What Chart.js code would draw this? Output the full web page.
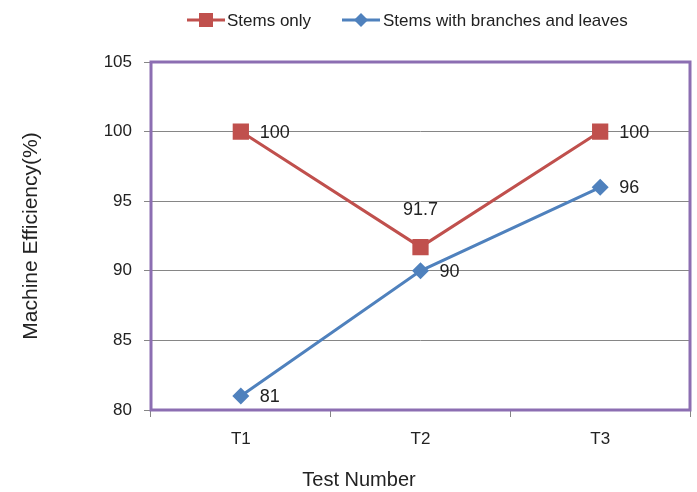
<!DOCTYPE html>
<html><head><meta charset="utf-8">
<script src="https://cdn.jsdelivr.net/npm/chart.js@4/dist/chart.umd.min.js"></script>
<style>html,body{margin:0;padding:0;background:#fff}#wrap{width:697px;height:492px;position:relative}</style>
</head><body><div id="wrap"><canvas id="c" width="697" height="492"></canvas></div>
<script>
const categories = ['T1', 'T2', 'T3'];
const stemsOnly = [100, 91.7, 100];
const stemsBranches = [81, 90, 96];
const seriesNames = ['Stems only', 'Stems with branches and leaves'];
const yTicks = [80, 85, 90, 95, 100, 105];
const xTitle = 'Test Number';
const yTitle = 'Machine Efficiency(%)';

const RED = '#C0504D', BLUE = '#4F81BD', PURPLE = '#8C6EB2';
const FONT = '"Liberation Sans", Arial, sans-serif';

const labelPos = [['right','above','right'], ['right','right','right']];

const plugin = {
  id: 'custom',
  beforeDatasetsDraw(chart) {
    const a = chart.chartArea, ctx = chart.ctx;
    ctx.save();
    ctx.strokeStyle = PURPLE; ctx.lineWidth = 3;
    ctx.strokeRect(a.left, a.top, a.right - a.left, a.bottom - a.top);
    ctx.restore();
  },
  afterDatasetsDraw(chart) {
    const ctx = chart.ctx;
    ctx.save();
    ctx.font = '18px ' + FONT; ctx.fillStyle = '#222';
    chart.data.datasets.forEach((ds, di) => {
      const meta = chart.getDatasetMeta(di);
      meta.data.forEach((pt, i) => {
        const txt = String(ds.data[i]);
        const pos = labelPos[di][i];
        if (pos === 'right') { ctx.textAlign = 'left'; ctx.textBaseline = 'middle'; ctx.fillText(txt, pt.x + 19, pt.y + 1); }
        else { ctx.textAlign = 'center'; ctx.textBaseline = 'middle'; ctx.fillText(txt, pt.x, pt.y - 37); }
      });
    });
    // axis titles
    ctx.fillStyle = '#222'; ctx.font = '20px ' + FONT;
    ctx.textAlign = 'center'; ctx.textBaseline = 'middle';
    ctx.fillText(xTitle, 359, 480);
    ctx.save();
    ctx.translate(31, 236); ctx.rotate(-Math.PI / 2);
    ctx.font = '21px ' + FONT;
    ctx.fillText(yTitle, 0, 0);
    ctx.restore();
    // legend
    const items = [
      {x: 187, color: RED, style: 'rect', text: seriesNames[0], tx: 40},
      {x: 342, color: BLUE, style: 'rectRot', text: seriesNames[1], tx: 41}
    ];
    const y = 20;
    items.forEach(it => {
      ctx.strokeStyle = it.color; ctx.lineWidth = 3;
      ctx.beginPath(); ctx.moveTo(it.x, y); ctx.lineTo(it.x + 38, y); ctx.stroke();
      ctx.fillStyle = it.color;
      const cx = it.x + 19;
      if (it.style === 'rect') ctx.fillRect(cx - 7, y - 7, 14, 14);
      else { ctx.beginPath(); ctx.moveTo(cx, y - 7); ctx.lineTo(cx + 7, y); ctx.lineTo(cx, y + 7); ctx.lineTo(cx - 7, y); ctx.closePath(); ctx.fill(); }
      ctx.fillStyle = '#222'; ctx.font = '17px ' + FONT; ctx.textAlign = 'left'; ctx.textBaseline = 'middle';
      ctx.fillText(it.text, it.x + it.tx, y + 1);
    });
    ctx.restore();
  }
};

new Chart(document.getElementById('c'), {
  type: 'line',
  data: {
    labels: categories,
    datasets: [
      {label: seriesNames[0], data: stemsOnly, borderColor: RED, backgroundColor: RED, borderWidth: 3,
       pointStyle: 'rect', pointRadius: 11.5, pointBorderWidth: 0, tension: 0},
      {label: seriesNames[1], data: stemsBranches, borderColor: BLUE, backgroundColor: BLUE, borderWidth: 3,
       pointStyle: 'rectRot', pointRadius: 8.5, pointBorderWidth: 0, tension: 0}
    ]
  },
  options: {
    responsive: false, animation: false,
    layout: {autoPadding: false, padding: {left: 0, right: 7, top: 62, bottom: 0}},
    plugins: {legend: {display: false}, tooltip: {enabled: false}},
    scales: {
      x: {
        offset: true,
        grid: {offset: true, drawOnChartArea: false, drawTicks: true, tickLength: 7, color: '#868686'},
        border: {display: false},
        ticks: {font: {size: 17, family: FONT}, color: '#222', padding: 12},
        afterFit(s) { s.height = 82; }
      },
      y: {
        min: 80, max: 105,
        afterBuildTicks(s) { s.ticks = yTicks.map(v => ({value: v})); },
        grid: {color: '#868686', tickLength: 7, lineWidth: 1},
        border: {display: false},
        ticks: {font: {size: 17, family: FONT}, color: '#222', padding: 12},
        afterFit(s) { s.width = 151; }
      }
    }
  },
  plugins: [plugin]
});
</script></body></html>
